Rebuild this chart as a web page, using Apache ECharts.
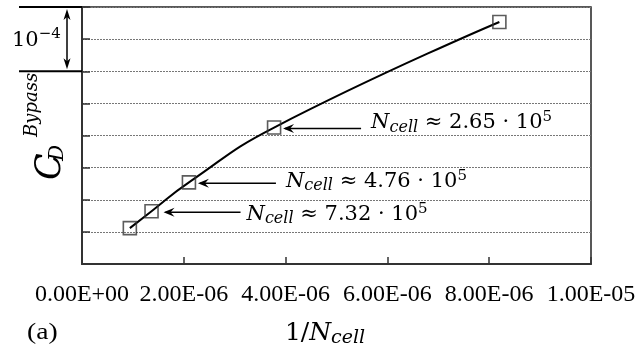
<!DOCTYPE html>
<html>
<head>
<meta charset="utf-8">
<script src="https://cdn.jsdelivr.net/npm/echarts@6/dist/echarts.min.js"></script>
<style>
  html, body { margin: 0; padding: 0; background: #fff; }
  #chart { width: 639px; height: 352px; }
</style>
</head>
<body>
<div id="chart"></div>
<script>
// Grid-convergence data: bypass drag coefficient against inverse cell count
const invCells = [9.4e-7, 1 / 7.32e5, 1 / 4.76e5, 1 / 2.65e5, 8.2e-6];
const dragBypass = [5.58e-5, 8.22e-5, 1.271e-4, 2.124e-4, 3.767e-4];
const xTickLabels = ['0.00E+00', '2.00E-06', '4.00E-06', '6.00E-06', '8.00E-06', '1.00E-05'];

// Annotated meshes: point index and the mantissa of the cell count
const annotatedIndex = [3, 2, 1];
const annotatedCount = ['2.65', '4.76', '7.32'];

// Scale bar on the left: spans one unit of 10^-4
const scaleBarTop = 4e-4;
const scaleBarBottom = 3e-4;

const MATH_FONT = 'DejaVu Serif';
const TEXT_FONT = 'Liberation Serif';

const chart = echarts.init(document.getElementById('chart'), null, { renderer: 'canvas' });

chart.setOption({
  animation: false,
  backgroundColor: '#fff',
  grid: {
    left: 82, right: 48, top: 7, bottom: 88,
    outerBoundsMode: 'none',
    containLabel: false,
    show: true, borderColor: '#222', borderWidth: 1.5, backgroundColor: 'transparent'
  },
  xAxis: {
    type: 'value', min: 0, max: 1e-5, interval: 2e-6,
    axisLine: { onZero: false, lineStyle: { color: '#333', width: 2 } },
    axisTick: { inside: true, length: 7, lineStyle: { color: '#333', width: 1.5 } },
    axisLabel: {
      formatter: (v) => xTickLabels[Math.round(v / 2e-6)] || '',
      margin: 19,
      fontFamily: TEXT_FONT, fontSize: 24, color: '#000',
      hideOverlap: false
    },
    splitLine: { show: false }
  },
  yAxis: {
    type: 'value', min: 0, max: 4e-4, interval: 5e-5,
    axisLine: { show: true, onZero: false, lineStyle: { color: '#333', width: 2 } },
    axisTick: { show: true, inside: true, length: 8, lineStyle: { color: '#333', width: 1.5 } },
    axisLabel: { show: false },
    splitLine: { show: true, lineStyle: { color: '#777', type: [2, 1], width: 1 } }
  },
  series: [
    {
      type: 'line',
      data: invCells.map((x, i) => [x, dragBypass[i]]),
      smooth: 0.5,
      showSymbol: false,
      symbol: 'none',
      lineStyle: { color: '#000', width: 2 },
      z: 2
    },
    {
      type: 'scatter',
      data: invCells.map((x, i) => [x, dragBypass[i]]),
      symbol: 'rect',
      symbolSize: 13,
      itemStyle: { color: 'rgba(0,0,0,0)', borderColor: '#333', borderWidth: 1.6 },
      z: 3
    }
  ]
});

const toPx = (x, y) => chart.convertToPixel({ gridIndex: 0 }, [x, y]);

const graphics = [];

// Annotation arrows pointing at the labelled meshes
const arrowLayout = [
  { tipGap: 9, length: 78, textGap: 10, textDy: -6 },
  { tipGap: 9, length: 78, textGap: 10, textDy: -2 },
  { tipGap: 12, length: 77, textGap: 6, textDy: 2 }
];
annotatedIndex.forEach((idx, k) => {
  const p = toPx(invCells[idx], dragBypass[idx]);
  const lay = arrowLayout[k];
  const tip = p[0] + lay.tipGap;
  const y = p[1] + 1;
  const tail = tip + lay.length;
  graphics.push({
    type: 'line', z: 10,
    shape: { x1: tip + 2, y1: y, x2: tail, y2: y },
    style: { stroke: '#000', lineWidth: 1.5 }
  });
  graphics.push({
    type: 'polygon', z: 10,
    shape: { points: [[tip, y], [tip + 11, y - 4.5], [tip + 7, y], [tip + 11, y + 4.5]] },
    style: { fill: '#000' }
  });
  graphics.push({
    type: 'text', z: 10,
    x: tail + lay.textGap, y: y + lay.textDy,
    style: {
      text: '{n|N}{s|cell}{t| ≈ ' + annotatedCount[k] + ' · 10}{e|5}',
      verticalAlign: 'middle', align: 'left',
      rich: {
        n: { fontFamily: MATH_FONT, fontStyle: 'italic', fontSize: 21, color: '#000' },
        s: { fontFamily: MATH_FONT, fontStyle: 'italic', fontSize: 16, color: '#000', padding: [10, 0, 0, 0] },
        t: { fontFamily: MATH_FONT, fontSize: 21, color: '#000' },
        e: { fontFamily: MATH_FONT, fontSize: 15, color: '#000', padding: [0, 0, 11, 0] }
      }
    }
  });
});

// Scale bar: 10^-4 between two grid lines
const sTop = toPx(0, scaleBarTop);
const sBot = toPx(0, scaleBarBottom);
const barX = 67;
graphics.push(
  { type: 'line', z: 10, shape: { x1: 19, y1: sTop[1], x2: sTop[0], y2: sTop[1] }, style: { stroke: '#000', lineWidth: 2 } },
  { type: 'line', z: 10, shape: { x1: 19, y1: sBot[1], x2: sBot[0], y2: sBot[1] }, style: { stroke: '#000', lineWidth: 2 } },
  { type: 'line', z: 10, shape: { x1: barX, y1: sTop[1] + 6, x2: barX, y2: sBot[1] - 6 }, style: { stroke: '#000', lineWidth: 1.5 } },
  {
    type: 'polygon', z: 10,
    shape: { points: [[barX, sTop[1] + 2], [barX - 3.5, sTop[1] + 13], [barX, sTop[1] + 10], [barX + 3.5, sTop[1] + 13]] },
    style: { fill: '#000' }
  },
  {
    type: 'polygon', z: 10,
    shape: { points: [[barX, sBot[1] - 2], [barX - 3.5, sBot[1] - 13], [barX, sBot[1] - 10], [barX + 3.5, sBot[1] - 13]] },
    style: { fill: '#000' }
  },
  {
    type: 'text', z: 10, x: 12, y: (sTop[1] + sBot[1]) / 2 + 1,
    style: {
      text: '{b|10}{e|−4}',
      verticalAlign: 'middle', align: 'left',
      rich: {
        b: { fontFamily: MATH_FONT, fontSize: 21, color: '#000' },
        e: { fontFamily: MATH_FONT, fontSize: 15, color: '#000', padding: [0, 0, 12, 0] }
      }
    }
  }
);

// Y-axis title: C_D^Bypass, reading upward
graphics.push({
  type: 'group', x: 62, y: 180, rotation: Math.PI / 2, z: 10,
  children: [
    { type: 'text', x: 0, y: -11, style: { text: 'C', fontFamily: MATH_FONT, fontStyle: 'italic', fontSize: 35, fill: '#000', verticalAlign: 'middle' } },
    { type: 'text', x: 19, y: -4, style: { text: 'D', fontFamily: MATH_FONT, fontStyle: 'italic', fontSize: 20, fill: '#000', verticalAlign: 'middle' } },
    { type: 'text', x: 43, y: -30, style: { text: 'Bypass', fontFamily: MATH_FONT, fontStyle: 'italic', fontSize: 18, fill: '#000', verticalAlign: 'middle' } }
  ]
});

// X-axis title and panel tag
graphics.push(
  {
    type: 'text', z: 10, x: 325, y: 333,
    style: {
      text: '{t|1/}{n|N}{s|cell}',
      align: 'center', verticalAlign: 'middle',
      rich: {
        t: { fontFamily: MATH_FONT, fontSize: 25, color: '#000' },
        n: { fontFamily: MATH_FONT, fontStyle: 'italic', fontSize: 25, color: '#000' },
        s: { fontFamily: MATH_FONT, fontStyle: 'italic', fontSize: 19, color: '#000', padding: [11, 0, 0, 0] }
      }
    }
  },
  {
    type: 'text', z: 10, x: 27, y: 333, scaleX: 1.2,
    style: { text: '(a)', fontFamily: TEXT_FONT, fontSize: 23, fill: '#000', verticalAlign: 'middle', align: 'left' }
  }
);

chart.setOption({ graphic: graphics });
</script>
</body>
</html>
